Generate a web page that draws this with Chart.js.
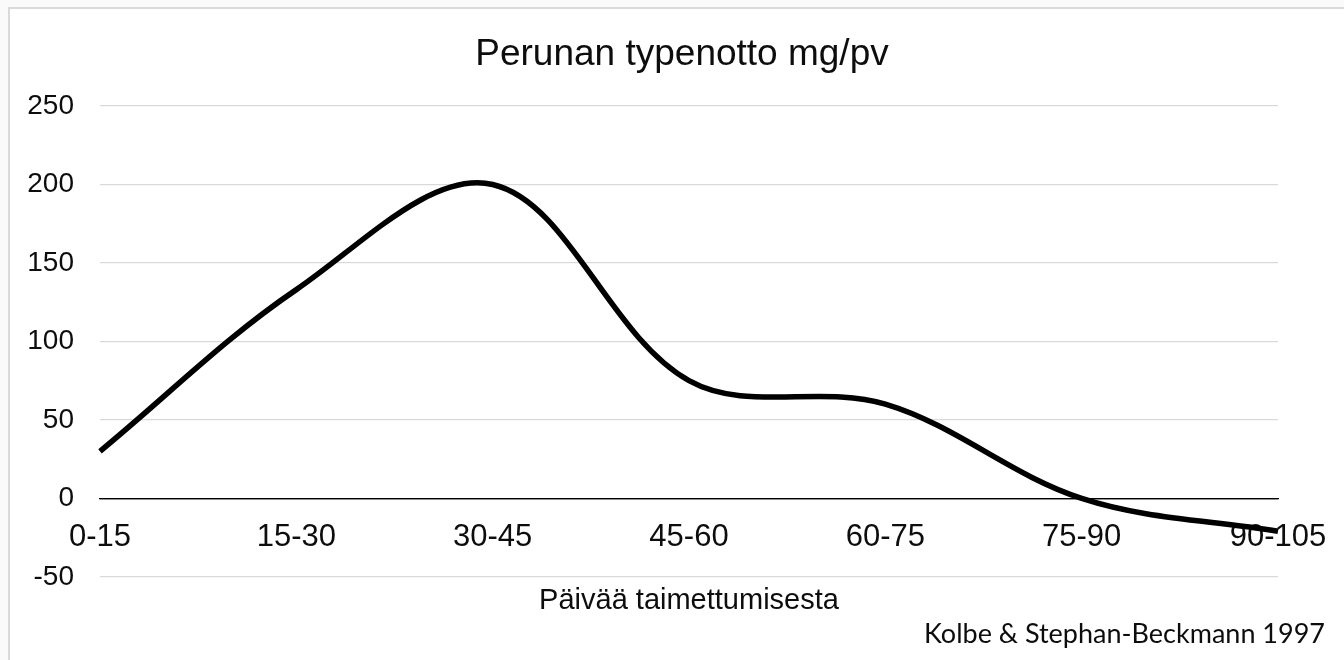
<!DOCTYPE html>
<html>
<head>
<meta charset="utf-8">
<script src="https://cdn.jsdelivr.net/npm/chart.js@4"></script>
<style>
  html, body { margin: 0; padding: 0; background: #fafafa; }
  body { width: 1344px; height: 660px; position: relative; overflow: hidden; }
  .frame { position: absolute; left: 8px; top: 7px; width: 1400px; height: 700px; background: #fff; border: 2px solid #dadada; }
  .wrap { position: absolute; left: 0; top: 0; width: 1344px; height: 660px; }
</style>
</head>
<body>
<div class="frame"></div>
<div class="wrap"><canvas id="chart"></canvas></div>
<script>
// potato nitrogen uptake, mg per day, by days after emergence
const categories = ["0-15", "15-30", "30-45", "45-60", "60-75", "75-90", "90-105"];
const uptake = [30, 133, 200, 75, 60, 0, -21];
const yTicks = [-50, 0, 50, 100, 150, 200, 250];
const sourceText = "Kolbe & Stephan-Beckmann 1997";

const textColor = "#0d0d0d";
Chart.defaults.font.family = "'Liberation Sans', Arial, sans-serif";
Chart.defaults.color = textColor;

// source note in the bottom right corner
const sourceNote = {
  id: "sourceNote",
  afterDraw(chart, args, opts) {
    const ctx = chart.ctx;
    ctx.save();
    ctx.font = opts.font;
    ctx.fillStyle = opts.color;
    ctx.textAlign = "right";
    ctx.textBaseline = "alphabetic";
    ctx.fillText(opts.text, chart.width - opts.right, chart.height - opts.bottom);
    ctx.restore();
  }
};

new Chart(document.getElementById("chart"), {
  type: "line",
  data: {
    labels: categories,
    datasets: [{
      label: "Perunan typenotto mg/pv",
      data: uptake,
      xAxisID: "x",
      borderColor: "#000",
      borderWidth: 5.5,
      pointRadius: 0,
      tension: 0.35,
      fill: false
    }]
  },
  options: {
    responsive: true,
    maintainAspectRatio: false,
    animation: false,
    layout: { padding: { left: 20, right: 0, top: 0, bottom: 42 } },
    scales: {
      x: {
        type: "category",
        position: { y: 0 },
        offset: false,
        grid: { display: false, drawTicks: false },
        border: { display: true, color: "#000", width: 1.3 },
        ticks: { padding: 21, font: { size: 31 }, color: textColor, maxRotation: 0, autoSkip: false },
        afterFit: s => { s.paddingRight = 66; }
      },
      x2: {
        type: "category",
        position: "bottom",
        offset: false,
        grid: { display: false, drawTicks: false },
        border: { display: false },
        ticks: { display: false },
        title: {
          display: true,
          text: "Päivää taimettumisesta",
          font: { size: 29 },
          color: textColor,
          padding: { top: 6.4, bottom: 0 }
        }
      },
      y: {
        min: yTicks[0],
        max: yTicks[yTicks.length - 1],
        ticks: { stepSize: yTicks[1] - yTicks[0], padding: 26, font: { size: 28 }, color: textColor },
        grid: {
          drawTicks: false,
          lineWidth: 1.3,
          color: ctx => (ctx.tick && ctx.tick.value === 0 ? "#000" : "#d9d9d9")
        },
        border: { display: false },
        afterFit: s => { s.width = 80; }
      }
    },
    plugins: {
      legend: { display: false },
      tooltip: { enabled: false },
      title: {
        display: true,
        text: "Perunan typenotto mg/pv",
        font: { size: 37, weight: "normal" },
        color: textColor,
        padding: { top: 33, bottom: 28.6 }
      },
      sourceNote: {
        text: sourceText,
        font: "27px Lato, 'Open Sans', sans-serif",
        color: textColor,
        right: 19,
        bottom: 17
      }
    }
  },
  plugins: [sourceNote]
});
</script>
</body>
</html>
